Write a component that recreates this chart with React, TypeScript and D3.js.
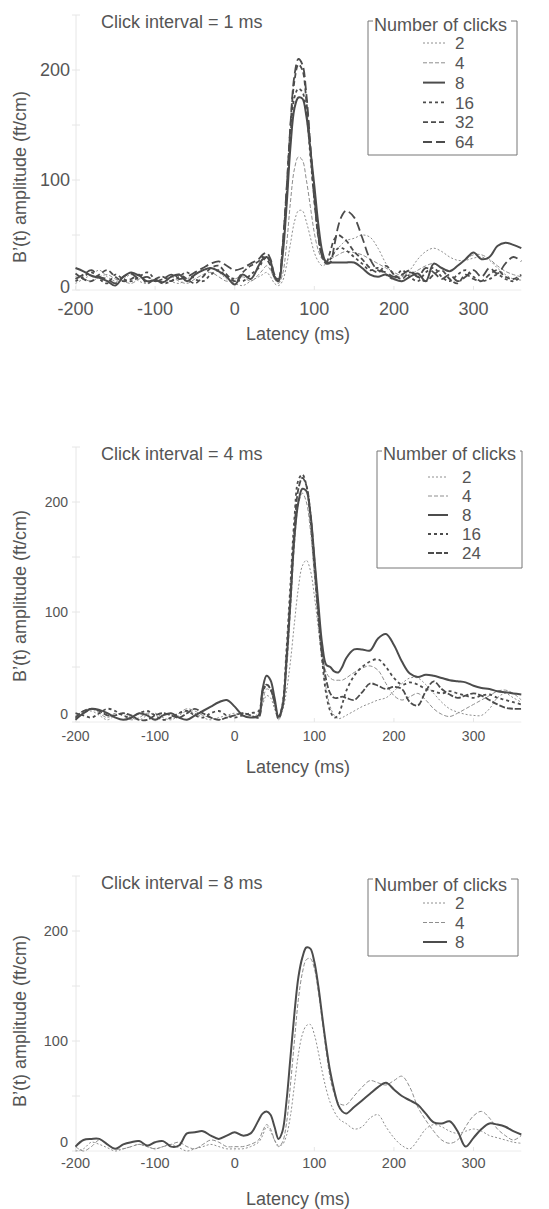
import * as d3 from "d3";
import { useEffect, useRef } from "react";

// latency grid (ms), finer around the main peak
const latency = [
  -200, -190, -180, -170, -160, -150, -140, -130, -120, -110, -100, -90, -80, -70, -60, -50, -40, -30, -20, -10, 0, 10, 20, 30,
  35, 40, 45, 50, 55, 60, 65, 70, 75, 80, 85, 90, 95, 100, 105, 110, 115, 120, 125, 130, 135, 140,
  150, 160, 170, 180, 190, 200, 210, 220, 230, 240, 250, 260, 270, 280, 290, 300, 310, 320, 330, 340, 350, 360,
];

// click interval = 1 ms
const clicks1 = ["2", "4", "8", "16", "32", "64"];
const p1n2 = [
  6, 10, 14, 18, 12, 8, 10, 14, 8, 6, 10, 12, 8, 6, 10, 14, 18, 20, 16, 10, 6, 4, 8, 12,
  14, 16, 12, 6, 4, 8, 22, 42, 62, 72, 72, 62, 48, 34, 26, 22, 24, 28, 34, 38, 42, 45,
  47, 50, 48, 38, 24, 14, 12, 18, 28, 35, 38, 35, 30, 27, 27, 29, 30, 27, 20, 14, 10, 9,
];
const p1n4 = [
  12, 10, 8, 12, 14, 10, 8, 6, 10, 12, 8, 10, 12, 8, 6, 10, 14, 16, 12, 8, 10, 12, 8, 14,
  18, 22, 18, 10, 6, 14, 40, 80, 110, 121, 118, 100, 76, 52, 36, 28, 26, 28, 30, 32, 34, 35,
  34, 32, 28, 24, 20, 16, 13, 14, 18, 22, 24, 20, 18, 22, 28, 32, 32, 28, 22, 17, 14, 12,
];
const p1n8 = [
  20, 17, 13, 11, 8, 4, 12, 16, 13, 8, 9, 7, 12, 14, 8, 14, 18, 20, 17, 12, 5, 14, 10, 22,
  28, 30, 26, 12, 8, 30, 75, 130, 165, 175, 174, 158, 128, 95, 60, 35, 25, 25, 25, 25, 25, 25,
  25, 20, 14, 12, 14, 10, 8, 12, 15, 8, 24, 20, 17, 22, 28, 34, 28, 30, 40, 43, 41, 38,
];
const p1n16 = [
  8, 12, 16, 10, 6, 14, 10, 8, 12, 16, 10, 6, 8, 12, 16, 10, 8, 14, 18, 12, 10, 8, 14, 20,
  26, 30, 24, 12, 8, 35, 82, 140, 175, 183, 180, 162, 122, 82, 50, 32, 26, 28, 34, 38, 38, 36,
  30, 24, 18, 20, 14, 10, 18, 12, 8, 16, 20, 12, 8, 14, 18, 12, 8, 10, 14, 10, 8, 12,
];
const p1n32 = [
  15, 10, 8, 14, 18, 12, 8, 10, 14, 6, 10, 12, 8, 14, 10, 6, 12, 20, 22, 14, 8, 16, 22, 26,
  30, 28, 22, 12, 10, 38, 88, 148, 190, 205, 200, 172, 128, 82, 48, 30, 25, 35, 46, 50, 48, 45,
  35, 28, 20, 16, 22, 14, 10, 16, 12, 8, 14, 18, 10, 6, 14, 10, 8, 14, 18, 12, 10, 14,
];
const p1n64 = [
  10, 14, 18, 12, 10, 6, 12, 15, 10, 12, 8, 10, 14, 10, 12, 16, 20, 24, 26, 22, 18, 20, 24, 28,
  32, 34, 28, 14, 10, 40, 90, 150, 195, 210, 205, 178, 132, 86, 50, 30, 24, 25, 40, 58, 68, 72,
  66, 48, 28, 18, 16, 12, 14, 18, 12, 20, 16, 10, 14, 8, 12, 18, 12, 20, 15, 24, 30, 26,
];

// click interval = 4 ms
const clicks2 = ["2", "4", "8", "16", "24"];
const p2n2 = [
  4, 8, 10, 6, 2, 6, 8, 4, 2, 6, 8, 4, 2, 6, 10, 8, 4, 2, 4, 6, 8, 6, 4, 8,
  16, 24, 22, 12, 2, 10, 28, 55, 90, 122, 142, 147, 138, 115, 85, 55, 30, 14, 6, 3, 4, 6,
  10, 14, 17, 20, 22, 28, 35, 40, 40, 34, 26, 18, 12, 9, 7, 6, 6, 12, 22, 26, 22, 18,
];
const p2n4 = [
  6, 10, 12, 8, 4, 8, 6, 2, 4, 8, 6, 2, 4, 8, 12, 10, 6, 4, 2, 4, 6, 8, 6, 4,
  18, 30, 28, 16, 4, 12, 45, 100, 160, 198, 208, 200, 175, 135, 95, 62, 45, 40, 38, 38, 38, 40,
  45, 49, 51, 47, 35, 24, 20, 23, 26, 20, 12, 7, 5, 8, 12, 16, 20, 24, 28, 29, 26, 20,
];
const p2n8 = [
  2, 8, 12, 11, 8, 4, 2, 4, 8, 6, 2, 6, 8, 4, 2, 6, 10, 14, 18, 20, 14, 6, 4, 6,
  30, 42, 38, 22, 5, 14, 55, 110, 168, 200, 212, 210, 190, 150, 108, 70, 52, 50, 46, 45, 50, 58,
  66, 66, 65, 76, 80, 70, 55, 44, 41, 43, 42, 40, 38, 37, 36, 33, 31, 30, 28, 27, 26, 25,
];
const p2n16 = [
  8, 6, 4, 8, 12, 10, 6, 4, 8, 10, 6, 2, 4, 8, 10, 6, 4, 8, 10, 6, 4, 6, 8, 10,
  26, 34, 30, 18, 4, 16, 65, 125, 185, 220, 225, 215, 185, 140, 95, 55, 25, 10, 4, 6, 16, 28,
  42, 50, 55, 57, 50, 40, 34, 36, 34, 30, 28, 26, 28, 26, 24, 22, 24, 25, 22, 20, 18, 16,
];
const p2n24 = [
  4, 10, 12, 10, 6, 6, 8, 6, 2, 2, 6, 8, 6, 4, 8, 12, 8, 4, 2, 4, 6, 8, 6, 4,
  28, 34, 30, 18, 3, 14, 58, 115, 175, 212, 222, 215, 190, 148, 100, 60, 38, 26, 22, 22, 23, 22,
  20, 27, 35, 33, 30, 32, 30, 18, 15, 28, 37, 30, 25, 22, 24, 26, 24, 20, 16, 13, 12, 12,
];

// click interval = 8 ms
const clicks3 = ["2", "4", "8"];
const p3n2 = [
  0, 2, 8, 6, 3, 0, 2, 4, 6, 4, 2, 4, 6, 3, 0, 2, 4, 6, 4, 2, 2, 2, 4, 8,
  14, 22, 18, 10, 5, 6, 14, 32, 60, 88, 106, 114, 115, 106, 90, 72, 56, 44, 36, 30, 27, 25,
  20, 22, 30, 33, 22, 12, 5, 2, 10, 20, 24, 22, 18, 16, 18, 20, 18, 14, 12, 10, 8, 7,
];
const p3n4 = [
  4, 0, 4, 10, 6, 2, 2, 4, 6, 4, 2, 4, 6, 8, 4, 2, 6, 10, 8, 4, 4, 4, 6, 10,
  18, 24, 20, 10, 4, 8, 25, 60, 100, 138, 162, 174, 175, 166, 145, 118, 90, 66, 52, 44, 42, 42,
  50, 58, 64, 62, 60, 64, 68, 58, 40, 28, 18, 10, 7, 10, 22, 32, 36, 30, 20, 14, 10, 14,
];
const p3n8 = [
  4, 10, 11, 11, 6, 2, 6, 8, 9, 5, 8, 9, 4, 5, 16, 17, 18, 14, 11, 14, 17, 14, 16, 28,
  34, 36, 33, 22, 11, 18, 45, 85, 125, 158, 176, 185, 184, 172, 150, 122, 95, 72, 55, 42, 36, 34,
  40, 46, 52, 58, 62, 56, 50, 46, 42, 34, 26, 25, 27, 18, 4, 12, 20, 25, 24, 22, 18, 15,
];

const xTicks = [-200, -100, 0, 100, 200, 300];
const yTicks = [0, 100, 200];
const yMinor = [0, 50, 100, 150, 200, 250];

const DARK = "#4c4c4c";
const LIGHT = "#8e8e8e";
const FONT = "'Liberation Sans', Arial, Helvetica, sans-serif";

const lineStyle = {
  "2": { color: LIGHT, width: 1, dash: "2,2" },
  "4": { color: LIGHT, width: 1, dash: "4,2" },
  "8": { color: DARK, width: 2, dash: null },
  "16": { color: DARK, width: 1.8, dash: "3,3" },
  "24": { color: DARK, width: 1.8, dash: "6,2" },
  "32": { color: DARK, width: 1.8, dash: "5,3" },
  "64": { color: DARK, width: 1.8, dash: "9,4" },
};

const panels = [
  {
    title: "Click interval = 1 ms", clicks: clicks1, series: [p1n2, p1n4, p1n8, p1n16, p1n32, p1n64],
    top: 15, tickFont: 18, tickDy: 25, zeroShift: 3, yTickX: 70, latDy: 50, yLabelY: 177,
    legend: { x0: 368, x1: 517, top: 21, bottom: 155, titleY: 31, first: 43, step: 19.8, lx0: 423, lx1: 445, tx: 455 },
  },
  {
    title: "Click interval = 4 ms", clicks: clicks2, series: [p2n2, p2n4, p2n8, p2n16, p2n24],
    top: 447, tickFont: 14, tickDy: 19, zeroShift: 8, yTickX: 68, latDy: 51, yLabelY: 596,
    legend: { x0: 377, x1: 522, top: 451, bottom: 568, titleY: 460, first: 477, step: 19, lx0: 428, lx1: 448, tx: 462 },
  },
  {
    title: "Click interval = 8 ms", clicks: clicks3, series: [p3n2, p3n4, p3n8],
    top: 876, tickFont: 14.5, tickDy: 17, zeroShift: 9, yTickX: 68, latDy: 54, yLabelY: 1021,
    legend: { x0: 368, x1: 518, top: 879, bottom: 956, titleY: 891, first: 903, step: 19.5, lx0: 423, lx1: 447, tx: 455 },
  },
];

export default function App() {
  const svgRef = useRef<SVGSVGElement>(null);

  useEffect(() => {
    const svg = d3.select(svgRef.current);
    svg.selectAll("*").remove();

    const x = d3.scaleLinear().domain([-200, 360]).range([75.5, 521.3]);

    panels.forEach((p) => {
      const y0 = p.top + 275;
      const y = d3.scaleLinear().domain([0, 250]).range([y0, p.top]);
      const g = svg.append("g");

      // faint axes
      g.append("line").attr("x1", 76).attr("x2", 76).attr("y1", p.top).attr("y2", y0)
        .attr("stroke", "#e6e6e6");
      g.append("line").attr("x1", 76).attr("x2", x(360)).attr("y1", y0).attr("y2", y0)
        .attr("stroke", "#ececec");
      g.selectAll(".ymin").data(yMinor).enter().append("line")
        .attr("x1", 72).attr("x2", 80).attr("y1", (d) => y(d)).attr("y2", (d) => y(d))
        .attr("stroke", "#e6e6e6");
      g.selectAll(".xmin").data(xTicks).enter().append("line")
        .attr("x1", (d) => x(d)).attr("x2", (d) => x(d)).attr("y1", y0).attr("y2", y0 - 4)
        .attr("stroke", "#e6e6e6");

      // tick labels
      g.selectAll(".ylab").data(yTicks).enter().append("text")
        .attr("x", p.yTickX).attr("y", (d) => y(d) - (d === 0 ? p.zeroShift : 0))
        .attr("dy", "0.36em").attr("text-anchor", "end")
        .attr("font-size", p.tickFont).attr("font-family", FONT).attr("fill", "#555")
        .text((d) => d);
      g.selectAll(".xlab").data(xTicks).enter().append("text")
        .attr("x", (d) => x(d)).attr("y", y0 + p.tickDy).attr("text-anchor", "middle")
        .attr("font-size", p.tickFont).attr("font-family", FONT).attr("fill", "#555")
        .text((d) => d);

      g.append("text").attr("x", 298).attr("y", y0 + p.latDy).attr("text-anchor", "middle")
        .attr("font-size", 18).attr("font-family", FONT).attr("fill", "#555")
        .text("Latency (ms)");
      g.append("text").attr("transform", `translate(26, ${p.yLabelY}) rotate(-90)`)
        .attr("text-anchor", "middle").attr("font-size", 18).attr("font-family", FONT).attr("fill", "#555")
        .text("B\u2019(t) amplitude (ft/cm)");
      g.append("text").attr("x", 101).attr("y", p.top + 13)
        .attr("font-size", 18).attr("font-family", FONT).attr("fill", "#555")
        .text(p.title);

      // curves
      const line = d3.line<number>()
        .x((_, i) => x(latency[i]))
        .y((d) => y(d))
        .curve(d3.curveCatmullRom.alpha(0.5));
      p.series.forEach((s, i) => {
        const st = lineStyle[p.clicks[i]];
        g.append("path").datum(s).attr("d", line)
          .attr("fill", "none").attr("stroke", st.color).attr("stroke-width", st.width)
          .attr("stroke-dasharray", st.dash).attr("stroke-linejoin", "round");
      });

      // legend
      const L = p.legend;
      const lg = g.append("g");
      const titleW = 136;
      lg.append("path")
        .attr("d", `M${L.x0 + 5},${L.top} H${L.x0} V${L.bottom} H${L.x1} V${L.top} H${L.x0 + 7 + titleW}`)
        .attr("fill", "none").attr("stroke", "#777").attr("stroke-width", 1);
      lg.append("text").attr("x", L.x0 + 6).attr("y", L.titleY)
        .attr("font-size", 18).attr("font-family", FONT).attr("fill", "#555")
        .text("Number of clicks");
      p.clicks.forEach((c, i) => {
        const st = lineStyle[c];
        const cy = L.first + i * L.step;
        lg.append("line").attr("x1", L.lx0).attr("x2", L.lx1).attr("y1", cy).attr("y2", cy)
          .attr("stroke", st.color).attr("stroke-width", st.width).attr("stroke-dasharray", st.dash);
        lg.append("text").attr("x", L.tx).attr("y", cy).attr("dy", "0.36em")
          .attr("font-size", 17).attr("font-family", FONT).attr("fill", "#555")
          .text(c);
      });
    });
  }, []);

  return (
    <svg ref={svgRef} width={549} height={1209}
      style={{ position: "absolute", left: 0, top: 0, background: "#fff" }} />
  );
}
